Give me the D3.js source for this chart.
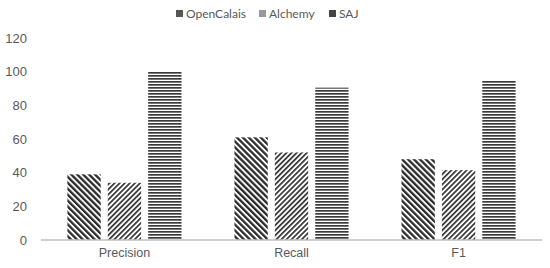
<!DOCTYPE html>
<html>
<head>
<meta charset="utf-8">
<script src="https://cdn.jsdelivr.net/npm/d3@7"></script>
<style>
  body { margin: 0; background: #fff; }
  svg { display: block; font-family: Lato, 'Open Sans', sans-serif; }
</style>
</head>
<body>
<div class="container"></div>
<script>
// Data
const categories = ['Precision', 'Recall', 'F1'];
const seriesNames = ['OpenCalais', 'Alchemy', 'SAJ'];
const openCalais = [39, 61, 48];
const alchemy = [34, 52, 41.5];
const saj = [100, 90.5, 95];
const yTicks = [0, 20, 40, 60, 80, 100, 120];

const seriesValues = [openCalais, alchemy, saj];

// Constants
const width = 550;
const height = 268;
const margin = { top: 38, right: 8, bottom: 28, left: 41 };

const svg = d3
  .select('.container')
  .append('svg')
  .attr('width', width)
  .attr('height', height);

// Patterns
const defs = svg.append('defs');

const pDown = defs
  .append('pattern')
  .attr('id', 'p-opencalais')
  .attr('patternUnits', 'userSpaceOnUse')
  .attr('width', 4.2)
  .attr('height', 4.2)
  .attr('patternTransform', 'rotate(-45)');
pDown.append('rect').attr('width', 4.2).attr('height', 4.2).attr('fill', '#fff');
pDown.append('rect').attr('width', 2.3).attr('height', 4.2).attr('fill', '#2b2b2b');

const pUp = defs
  .append('pattern')
  .attr('id', 'p-alchemy')
  .attr('patternUnits', 'userSpaceOnUse')
  .attr('width', 3.6)
  .attr('height', 3.6)
  .attr('patternTransform', 'rotate(45)');
pUp.append('rect').attr('width', 3.6).attr('height', 3.6).attr('fill', '#fff');
pUp.append('rect').attr('width', 1.7).attr('height', 3.6).attr('fill', '#333');

const pHor = defs
  .append('pattern')
  .attr('id', 'p-saj')
  .attr('patternUnits', 'userSpaceOnUse')
  .attr('width', 4)
  .attr('height', 3);
pHor.append('rect').attr('width', 4).attr('height', 3).attr('fill', '#fff');
pHor.append('rect').attr('width', 4).attr('height', 1.7).attr('fill', '#3a3a3a');

const fills = ['url(#p-opencalais)', 'url(#p-alchemy)', 'url(#p-saj)'];
const legendFills = ['#555', '#999', '#444'];

// Scales
const x0 = d3
  .scaleBand()
  .domain(categories)
  .range([margin.left, width - margin.right])
  .paddingInner(0.317)
  .paddingOuter(0.158);

const x1 = d3
  .scaleBand()
  .domain(seriesNames)
  .range([0, x0.bandwidth()])
  .paddingInner(0.175);

const y = d3
  .scaleLinear()
  .domain([0, 120])
  .range([height - margin.bottom, margin.top]);

// Y axis
const yAxis = d3.axisLeft(y).tickValues(yTicks).tickSize(0).tickPadding(14);
const gy = svg
  .append('g')
  .attr('transform', `translate(${margin.left},0)`)
  .call(yAxis);
gy.select('.domain').remove();
gy.selectAll('text')
  .attr('fill', '#595959')
  .style('font-size', '13px');

// Bars
const groups = svg
  .append('g')
  .selectAll('g')
  .data(categories)
  .enter()
  .append('g')
  .attr('transform', (d) => `translate(${x0(d)},0)`);

groups
  .selectAll('rect')
  .data((d, i) => seriesNames.map((s, j) => ({ s, j, v: seriesValues[j][i] })))
  .enter()
  .append('rect')
  .attr('x', (d) => x1(d.s))
  .attr('y', (d) => y(d.v))
  .attr('width', x1.bandwidth())
  .attr('height', (d) => y(0) - y(d.v))
  .attr('fill', (d) => fills[d.j]);

// X axis
const xAxis = d3.axisBottom(x0).tickSize(0).tickPadding(8);
const gx = svg
  .append('g')
  .attr('transform', `translate(0,${y(0)})`)
  .call(xAxis);
gx.select('.domain').attr('stroke', '#bfbfbf').attr('stroke-width', 1.3)
  .attr('d', `M${margin.left},0H${width - margin.right}`);
gx.selectAll('text')
  .attr('fill', '#595959')
  .style('font-size', '12.5px');

// Legend
const legendItems = [
  { name: 'OpenCalais', x: 176 },
  { name: 'Alchemy', x: 259 },
  { name: 'SAJ', x: 329 },
];
const legend = svg.append('g').attr('id', 'legend');
legendItems.forEach((item, i) => {
  legend
    .append('rect')
    .attr('x', item.x)
    .attr('y', 10)
    .attr('width', 7)
    .attr('height', 7)
    .attr('fill', legendFills[i]);
  legend
    .append('text')
    .attr('x', item.x + 10)
    .attr('y', 18)
    .attr('fill', '#595959')
    .style('font-size', '12px')
    .text(item.name);
});
</script>
</body>
</html>
